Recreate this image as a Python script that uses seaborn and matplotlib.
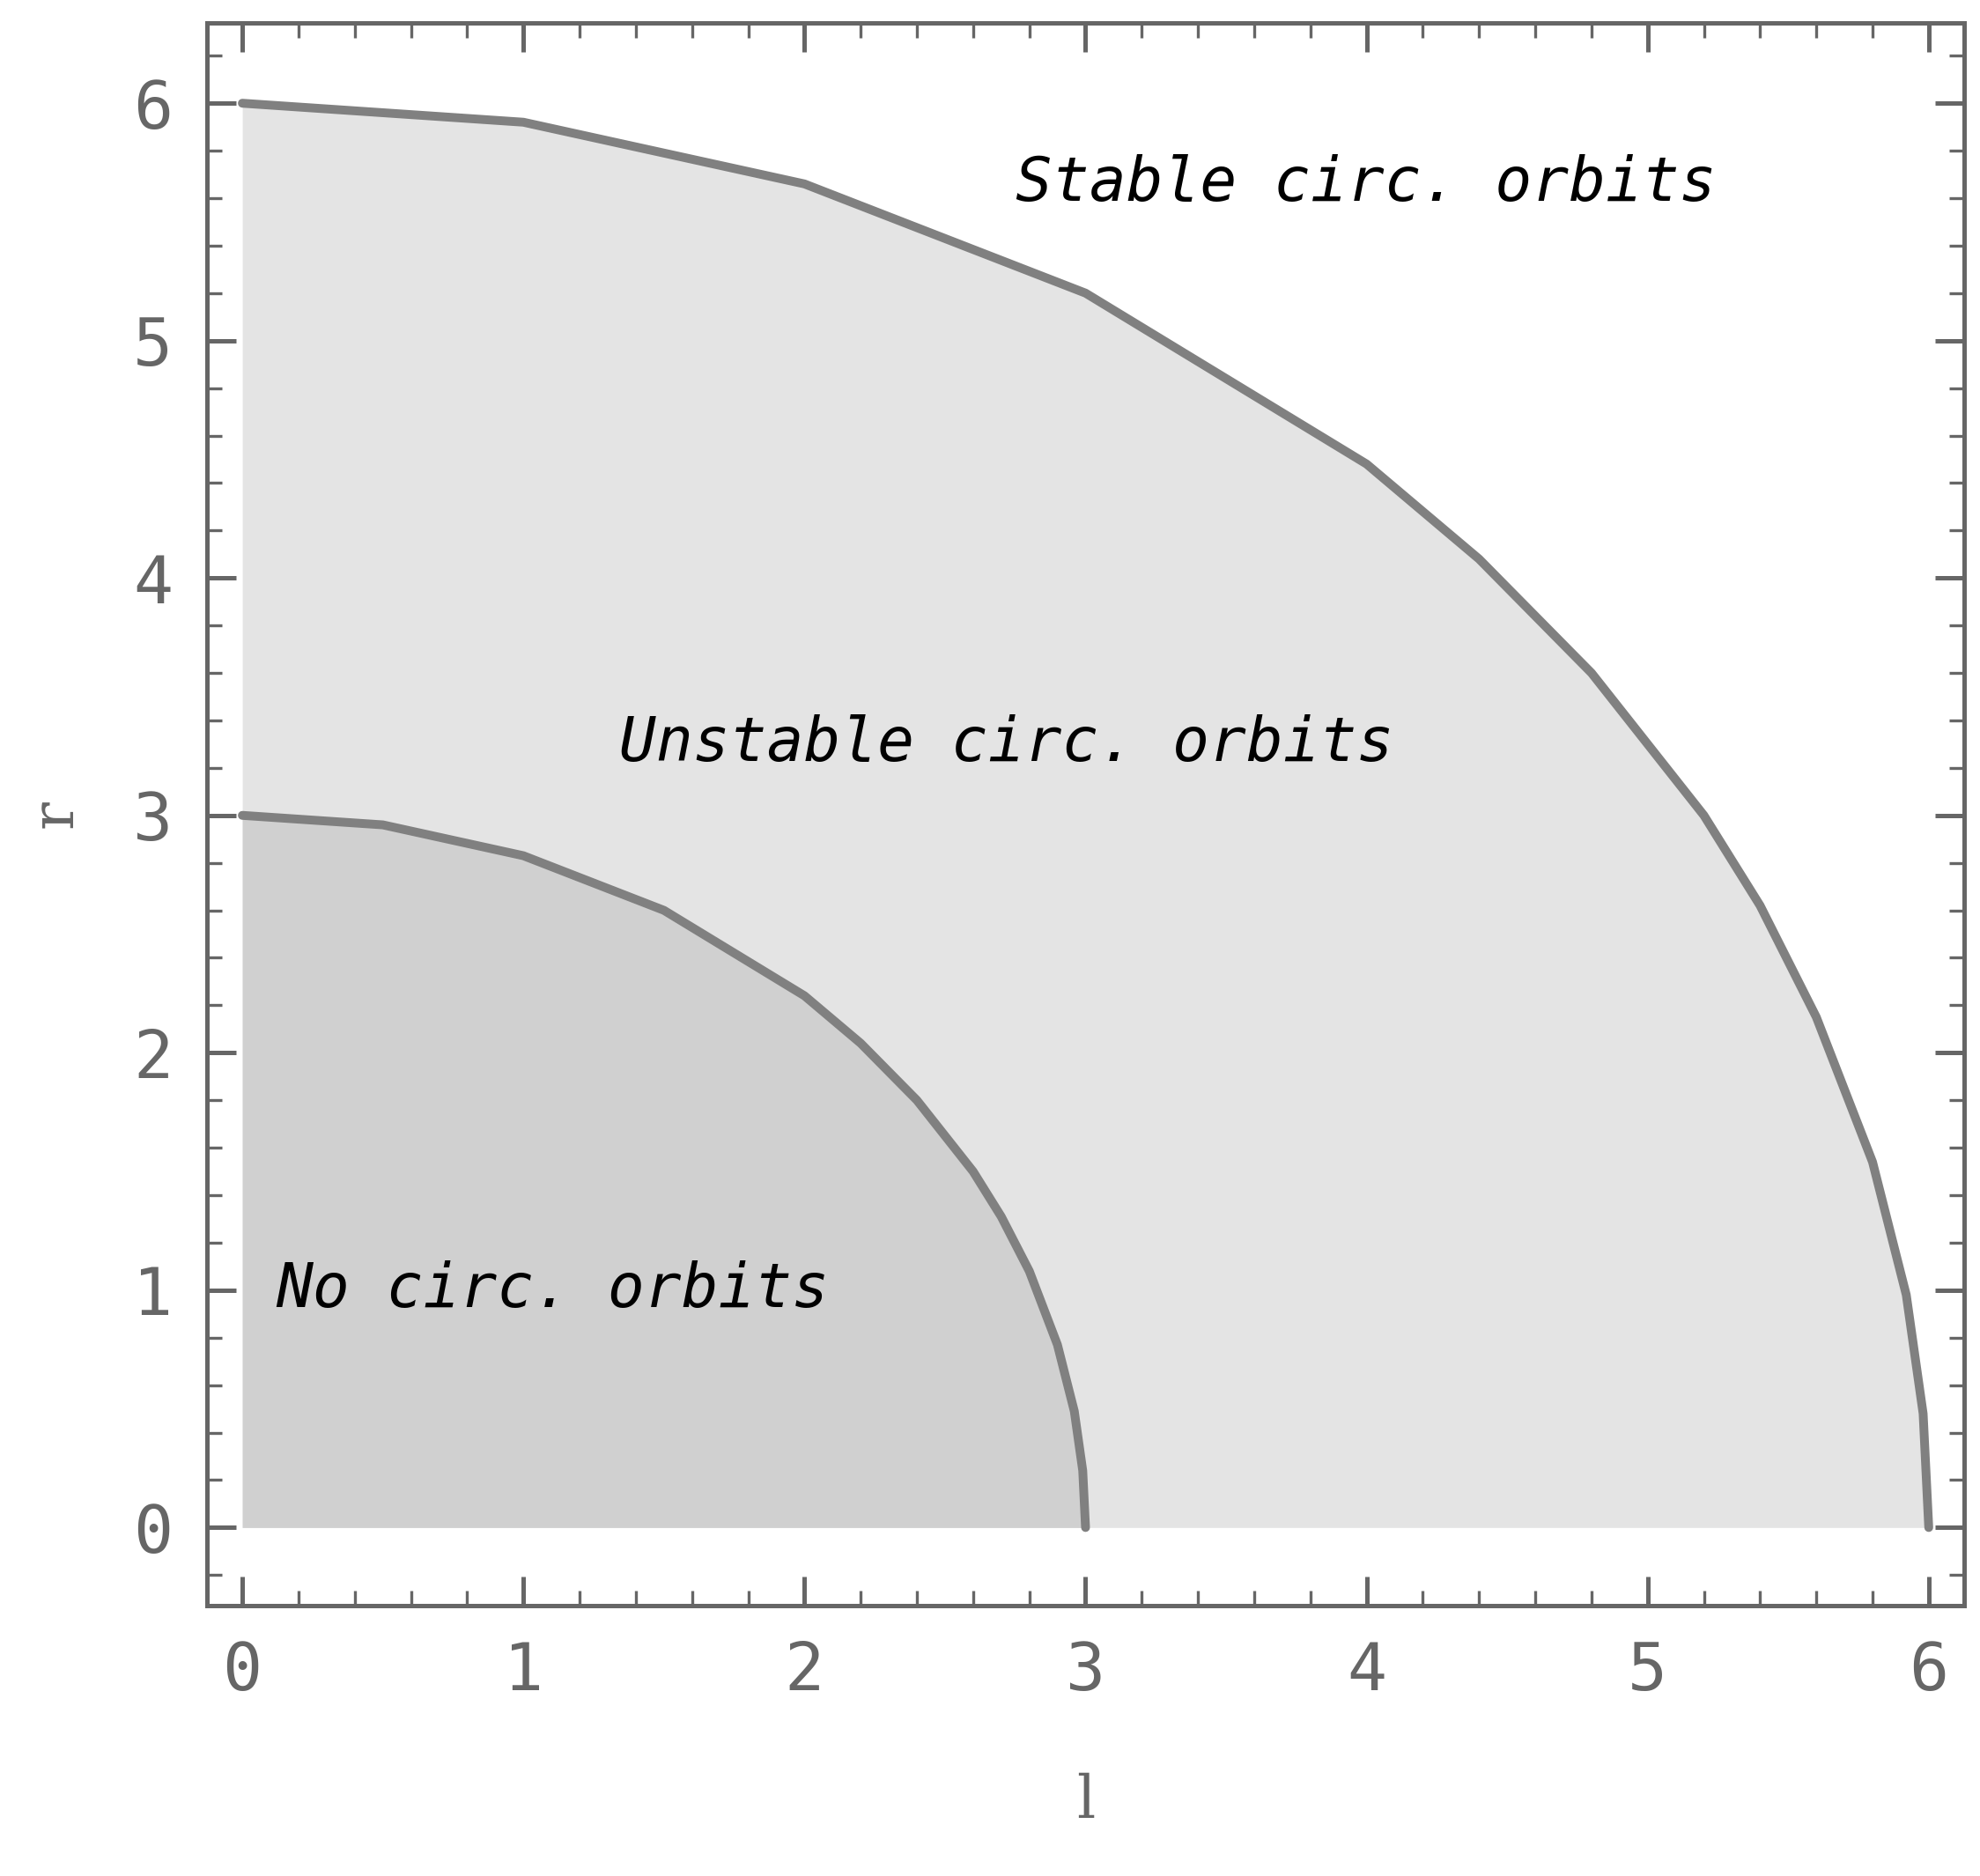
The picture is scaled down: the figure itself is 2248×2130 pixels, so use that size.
import matplotlib
matplotlib.use("Agg")
import matplotlib.pyplot as plt
import seaborn as sns
from matplotlib.ticker import MultipleLocator

sns.set_theme(style="white")

# Boundary curves (l, r)
inner_l = [0, 0.5, 1.0, 1.5, 2.0, 2.2, 2.4, 2.6, 2.7, 2.8, 2.9, 2.96, 2.99, 3.0]
inner_r = [3.0, 2.96, 2.83, 2.6, 2.24, 2.04, 1.8, 1.5, 1.31, 1.08, 0.77, 0.49, 0.24, 0.0]
outer_l = [0, 1.0, 2.0, 3.0, 4.0, 4.4, 4.8, 5.2, 5.4, 5.6, 5.8, 5.92, 5.98, 6.0]
outer_r = [6.0, 5.92, 5.66, 5.2, 4.48, 4.08, 3.6, 3.0, 2.62, 2.15, 1.54, 0.98, 0.48, 0.0]

region_labels = ["Stable circ. orbits", "Unstable circ. orbits", "No circ. orbits"]
label_l = [2.75, 1.34, 0.12]
label_r = [5.66, 3.3, 1.0]

fig = plt.figure(figsize=(11.24, 10.65), dpi=200)
ax = fig.add_axes([0.1045, 0.144, 0.8875, 0.844])

ax.fill_between(outer_l, outer_r, 0, color="#e4e4e4", lw=0, zorder=1)
ax.fill_between(inner_l, inner_r, 0, color="#d0d0d0", lw=0, zorder=2)
sns.lineplot(x=outer_l, y=outer_r, ax=ax, color="#808080", lw=3.6, sort=False, zorder=3)
sns.lineplot(x=inner_l, y=inner_r, ax=ax, color="#808080", lw=3.6, sort=False, zorder=3)

for txt, lx, ly in zip(region_labels, label_l, label_r):
    ax.text(lx, ly, txt, fontsize=25, fontfamily="DejaVu Sans Mono", style="italic",
            color="black", va="center", ha="left", zorder=4)

ax.set_xlim(-0.126, 6.126)
ax.set_ylim(-0.33, 6.34)
ax.xaxis.set_major_locator(MultipleLocator(1))
ax.yaxis.set_major_locator(MultipleLocator(1))
ax.xaxis.set_minor_locator(MultipleLocator(0.2))
ax.yaxis.set_minor_locator(MultipleLocator(0.2))
ax.tick_params(which="both", direction="in", top=True, right=True, bottom=True, left=True,
               color="#666666", labelcolor="#666666", labelsize=27)
ax.tick_params(which="major", length=12, width=1.8, pad=14)
ax.tick_params(which="minor", length=6, width=1.2)
for lab in ax.get_xticklabels() + ax.get_yticklabels():
    lab.set_fontfamily("DejaVu Sans Mono")
for s in ax.spines.values():
    s.set_color("#666666")
    s.set_linewidth(1.8)

ax.set_xlabel("l", fontsize=24, fontfamily="DejaVu Serif", color="#666666", labelpad=28)
ax.set_ylabel("r", fontsize=24, fontfamily="DejaVu Serif", color="#666666", labelpad=20)

fig.savefig("out.png", dpi=200)
